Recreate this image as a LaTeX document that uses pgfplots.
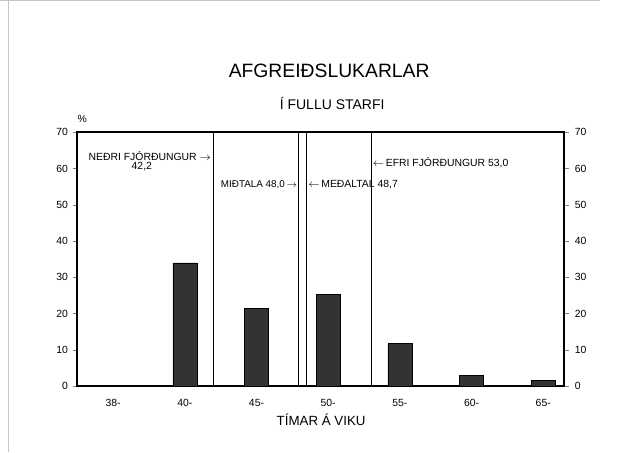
\documentclass[border=0pt]{standalone}
\usepackage{pgfplots}
\pgfplotsset{compat=1.18}
\usepackage{fontspec}
\setmainfont{Liberation Sans}
\begin{document}
\begin{tikzpicture}[x=0.75pt,y=0.75pt]
\path (0,0) rectangle (638,452);
% scan frame lines
\draw[gray!45, line width=0.5pt] (8,0) -- (8,452);
\draw[gray!45, line width=0.5pt] (0,451.5) -- (600,451.5);
\pgfplotsset{
  chartbase/.style={
    at={(57.75pt,49.5pt)}, anchor=south west, scale only axis,
    width=365.25pt, height=190.5pt,
    xmin=-0.5, xmax=6.29, ymin=0, ymax=70,
    ytick={0,10,...,70},
    tick label style={font=\fontsize{7.8}{8}\selectfont},
    /pgf/number format/assume math mode=true,
    tick align=outside, major tick length=3.5pt,
    axis line style={line width=1.6pt},
  }
}
% right-hand scale
\begin{axis}[chartbase,
  axis x line=none, axis y line*=right,
  yticklabel style={xshift=1pt},
]
\end{axis}
\begin{axis}[chartbase,
  xtick={0,...,6}, xticklabels={38-,40-,45-,50-,55-,60-,65-},
  major x tick style={draw=none},
  xticklabel style={yshift=-3pt},
  ytick pos=left,
  clip=false,
]
\addplot[ybar, bar width=0.335, fill=black!80, draw=black] coordinates {
  (0,0) (1,34) (2,21.5) (3,25.4) (4,11.7) (5,3) (6,1.6)
};
% quartiles, median and mean
\addplot[black, line width=0.6pt] coordinates {(1.395,0) (1.395,70)};
\addplot[black, line width=0.6pt] coordinates {(2.59,0) (2.59,70)};
\addplot[black, line width=0.6pt] coordinates {(2.70,0) (2.70,70)};
\addplot[black, line width=0.6pt] coordinates {(3.60,0) (3.60,70)};
\begin{scope}[font=\fontsize{7.8}{8}\selectfont]
\node[anchor=east, inner sep=1.5pt] at (axis cs:1.395,63.4) {NEÐRI FJÓRÐUNGUR $\rightarrow$};
\node[inner sep=0pt] at (axis cs:0.40,60.6) {42,2};
\node[anchor=east, inner sep=1pt, font=\fontsize{7.4}{8}\selectfont] at (axis cs:2.59,55.6) {MIÐTALA 48,0\,$\rightarrow$};
\node[anchor=west, inner sep=1pt] at (axis cs:2.70,55.6) {$\leftarrow$\,MEÐALTAL 48,7};
\node[anchor=west, inner sep=1pt] at (axis cs:3.60,61.7) {$\leftarrow$\,EFRI FJÓRÐUNGUR 53,0};
\end{scope}
\end{axis}
\node[font=\fontsize{7.8}{8}\selectfont] at (82,333) {\%};
\node[font=\fontsize{14.5}{16}\selectfont] at (329,381) {AFGREIÐSLUKARLAR};
\node[font=\fontsize{10.5}{12}\selectfont] at (332,349) {Í FULLU STARFI};
\node[font=\fontsize{10}{11}\selectfont] at (321,32) {TÍMAR Á VIKU};
\end{tikzpicture}
\end{document}
